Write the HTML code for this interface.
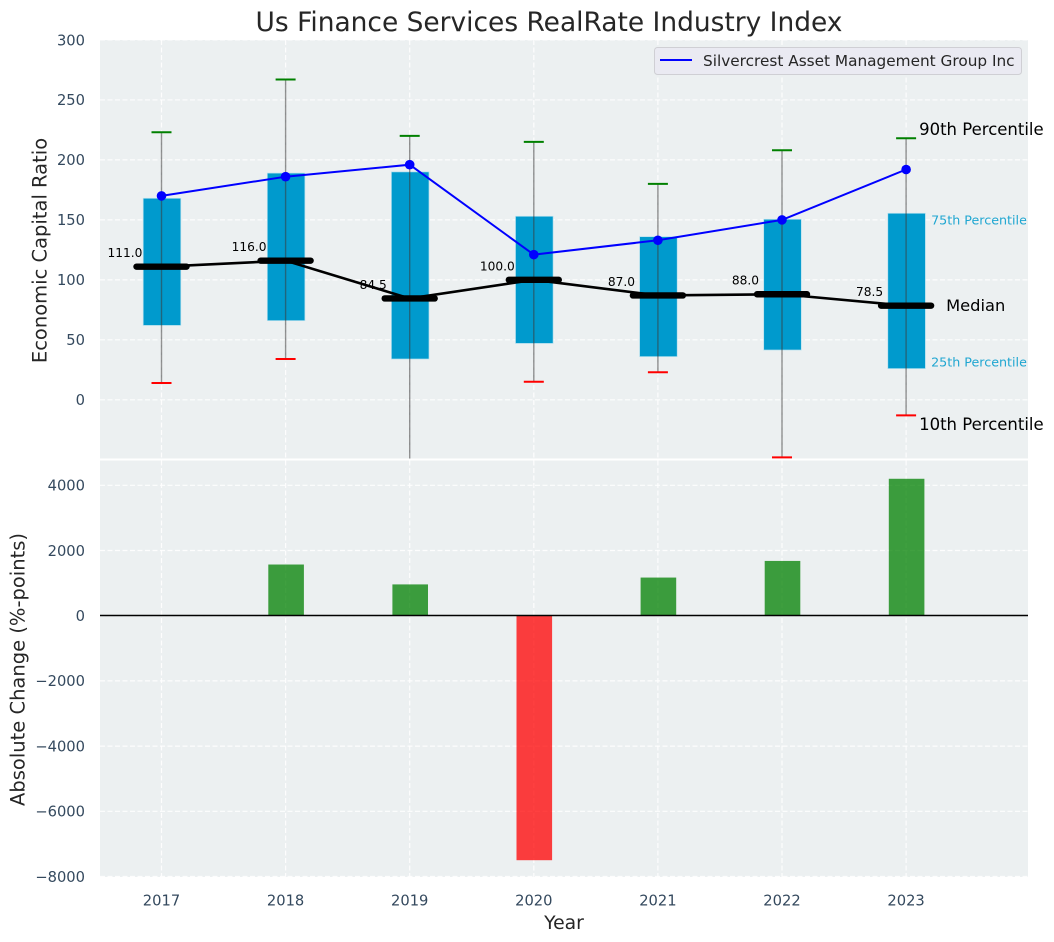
<!DOCTYPE html>
<html lang="en">
<head>
<meta charset="utf-8">
<title>Us Finance Services RealRate Industry Index</title>
<style>
html,body{margin:0;padding:0;background:#fff;width:1054px;height:942px;overflow:hidden}
svg{display:block;font-family:"DejaVu Sans","Liberation Sans",sans-serif}
</style>
</head>
<body>
<svg id="chart" xmlns="http://www.w3.org/2000/svg" width="1054" height="942" viewBox="0 0 1054 942">
  <defs>
    <clipPath id="top-clip"><rect x="100" y="40" width="928" height="418.5"/></clipPath>
  </defs>
  <rect x="100" y="40" width="928" height="418.5" fill="#ecf0f1"/>
  <rect x="100" y="460.5" width="928" height="416.5" fill="#ecf0f1"/>
  <g id="grid"></g>
  <g id="bars"></g>
  <g id="marks" clip-path="url(#top-clip)"></g>
  <g id="labels"></g>
  <text x="549" y="31" text-anchor="middle" font-size="26.45" fill="#262626">Us Finance Services RealRate Industry Index</text>
  <text transform="translate(46.5,250.5) rotate(-90)" text-anchor="middle" font-size="19.5" fill="#262626">Economic Capital Ratio</text>
  <text transform="translate(24.5,669.5) rotate(-90)" text-anchor="middle" font-size="19.5" fill="#262626">Absolute Change (%-points)</text>
  <text x="564" y="929" text-anchor="middle" font-size="18.8" fill="#262626">Year</text>
  <g>
    <rect x="654.5" y="47.5" width="367" height="27" rx="3" fill="#eaeaf2" stroke="#cfcfd4" stroke-width="1"/>
    <line x1="660" y1="60" x2="692" y2="60" stroke="#0000ff" stroke-width="2"/>
    <text x="703" y="66" font-size="15.3" fill="#262626">Silvercrest Asset Management Group Inc</text>
  </g>
</svg>
<script>
var years = [2017, 2018, 2019, 2020, 2021, 2022, 2023];
var p10 = [14, 34, -60, 15, 23, -48, -13];
var p25 = [62, 66, 34, 47, 36, 41.5, 26];
var medians = [111.0, 116.0, 84.5, 100.0, 87.0, 88.0, 78.5];
var p75 = [168, 189, 190, 153, 136, 150.5, 155.5];
var p90 = [223, 267, 220, 215, 180, 208, 218];
var companyValues = [170, 186, 196, 121, 133, 150, 192];
var absoluteChange = [0, 1570, 960, -7500, 1170, 1680, 4200];
var topTicks = [0, 50, 100, 150, 200, 250, 300];
var bottomTicks = [-8000, -6000, -4000, -2000, 0, 2000, 4000];

var NS = 'http://www.w3.org/2000/svg';
function xScale(year) { return 161.5 + (year - 2017) * 124.1; }
function yTop(v) { return 399.8 - v * 1.1995; }
function yBottom(v) { return 615.7 - v * 0.0326; }
function mk(tag, attrs, parent) {
  var el = document.createElementNS(NS, tag);
  for (var k in attrs) el.setAttribute(k, attrs[k]);
  parent.appendChild(el);
  return el;
}
function fmtTick(v) { return v < 0 ? '\u2212' + Math.abs(v) : String(v); }

var gridG = document.getElementById('grid');
var barsG = document.getElementById('bars');
var marksG = document.getElementById('marks');
var labelsG = document.getElementById('labels');
var gridStyle = { stroke: '#ffffff', 'stroke-width': 1.2, 'stroke-dasharray': '5 2.5', opacity: 0.9 };
function styled(o) { var r = {}; for (var k in gridStyle) r[k] = gridStyle[k]; for (var j in o) r[j] = o[j]; return r; }

topTicks.forEach(function (t) {
  var y = yTop(t);
  var g = mk('line', styled({ x1: 100, x2: 1028, y1: y, y2: y }), gridG);
  
  
  var lab = mk('text', { x: 85, y: y + 5.3, 'text-anchor': 'end', 'font-size': 14.7, fill: '#34495e' }, labelsG);
  
  
  lab.textContent = fmtTick(t);
});
bottomTicks.forEach(function (t) {
  var y = yBottom(t);
  var g = mk('line', styled({ x1: 100, x2: 1028, y1: y, y2: y }), gridG);
  
  
  var lab = mk('text', { x: 85, y: y + 5.3, 'text-anchor': 'end', 'font-size': 14.7, fill: '#34495e' }, labelsG);
  
  
  lab.textContent = fmtTick(t);
});
years.forEach(function (yr) {
  var x = xScale(yr);
  var g1 = mk('line', styled({ x1: x, x2: x, y1: 40, y2: 458.5 }), gridG);
  
  
  var g2 = mk('line', styled({ x1: x, x2: x, y1: 460.5, y2: 877 }), gridG);
  
  
  var lab = mk('text', { x: x, y: 905.3, 'text-anchor': 'middle', 'font-size': 14.7, fill: '#34495e' }, labelsG);
  
  
  lab.textContent = String(yr);
});

absoluteChange.forEach(function (v, i) {
  var x = xScale(years[i]) + 0.5;
  var y0 = yBottom(0), y1 = yBottom(v);
  var bar = mk('rect', {
    x: x - 17.8, width: 35.6, y: Math.min(y0, y1), height: Math.abs(y1 - y0),
    fill: v >= 0 ? '#008000' : '#ff0000', 'fill-opacity': 0.75
  }, barsG);
  
  
});
var zero = mk('line', { x1: 100, x2: 1028, y1: 615.5, y2: 615.5, stroke: '#000', 'stroke-width': 1.4 }, barsG);



years.forEach(function (yr, i) {
  var x = xScale(yr);
  var box = mk('rect', {
    x: x + 0.5 - 18.8, width: 37.6, y: yTop(p75[i]), height: yTop(p25[i]) - yTop(p75[i]),
    fill: '#009acd', stroke: '#b5e0ee', 'stroke-width': 0.7
  }, marksG);
  
  
  var w = mk('line', { x1: x, x2: x, y1: yTop(p90[i]), y2: yTop(p10[i]), stroke: '#3a3a3a', 'stroke-opacity': 0.55, 'stroke-width': 1.4 }, marksG);
  
  
  var c1 = mk('line', { x1: x - 10, x2: x + 10, y1: yTop(p90[i]), y2: yTop(p90[i]), stroke: '#008000', 'stroke-width': 2 }, marksG);
  
  
  var c2 = mk('line', { x1: x - 10, x2: x + 10, y1: yTop(p10[i]), y2: yTop(p10[i]), stroke: '#ff0000', 'stroke-width': 2 }, marksG);
  
  
});

medians.forEach(function (m, i) {
  var x = xScale(years[i]);
  var lab = mk('text', { x: x - 36.5, y: yTop(m) - 9.5, 'text-anchor': 'middle', 'font-size': 12.2, fill: '#000' }, labelsG);
  
  
  lab.textContent = m.toFixed(1);
});

var medianPath = mk('polyline', {
  points: medians.map(function (m, i) { return xScale(years[i]) + ',' + yTop(m); }).join(' '),
  fill: 'none', stroke: '#000', 'stroke-width': 2.6
}, marksG);


medians.forEach(function (m, i) {
  var x = xScale(years[i]);
  var bar = mk('line', { x1: x - 25, x2: x + 25, y1: yTop(m), y2: yTop(m), stroke: '#000', 'stroke-width': 6.4, 'stroke-linecap': 'round' }, marksG);
  
  
});

var companyPath = mk('polyline', {
  points: companyValues.map(function (v, i) { return xScale(years[i]) + ',' + yTop(v); }).join(' '),
  fill: 'none', stroke: '#0000ff', 'stroke-width': 2
}, marksG);


companyValues.forEach(function (v, i) {
  var pt = mk('circle', { cx: xScale(years[i]), cy: yTop(v), r: 4.8, fill: '#0000ff' }, marksG);
  
  
});

var last = years.length - 1;
var lastX = xScale(years[last]);
var a90 = mk('text', { x: lastX + 13, y: yTop(p90[last]) - 3.5, 'font-size': 16.5, fill: '#000' }, labelsG);


a90.textContent = '90th Percentile';
var a10 = mk('text', { x: lastX + 13, y: yTop(p10[last]) + 14.5, 'font-size': 16.5, fill: '#000' }, labelsG);


a10.textContent = '10th Percentile';
var aMed = mk('text', { x: lastX + 40, y: yTop(medians[last]) + 5.5, 'font-size': 16.3, fill: '#000' }, labelsG);


aMed.textContent = 'Median';
var a75 = mk('text', { x: lastX + 25, y: yTop(p75[last]) + 11, 'font-size': 12.7, fill: '#1fa6d1' }, labelsG);


a75.textContent = '75th Percentile';
var a25 = mk('text', { x: lastX + 25, y: yTop(p25[last]) - 2, 'font-size': 12.7, fill: '#1fa6d1' }, labelsG);


a25.textContent = '25th Percentile';
</script>
</body>
</html>
